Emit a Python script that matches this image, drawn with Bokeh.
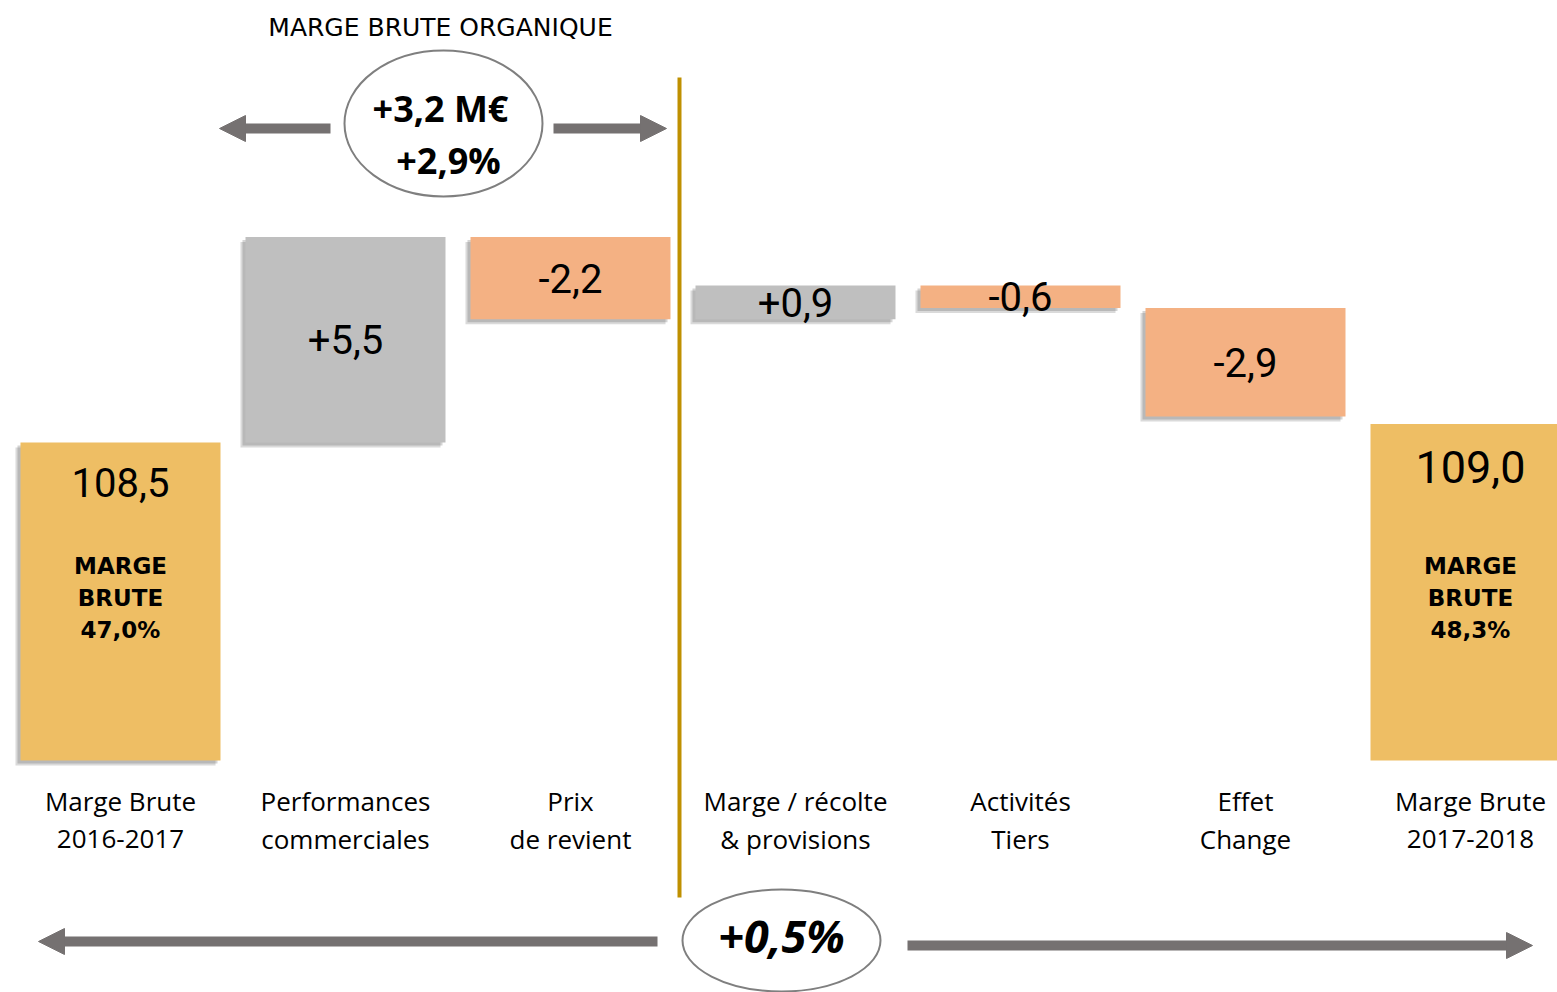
from bokeh.plotting import figure
from bokeh.models import Range1d, Arrow, NormalHead, ColumnDataSource
from bokeh.core.properties import value
from bokeh.embed import file_html
from bokeh.resources import INLINE

# ---------------- data ----------------
categories_line1 = ["Marge Brute", "Performances", "Prix", "Marge / récolte", "Activités", "Effet", "Marge Brute"]
categories_line2 = ["2016-2017", "commerciales", "de revient", "& provisions", "Tiers", "Change", "2017-2018"]
start_value = 108.5
deltas = [5.5, -2.2, 0.9, -0.6, -2.9]
end_value = 109.0
value_labels = ["108,5", "+5,5", "-2,2", "+0,9", "-0,6", "-2,9", "109,0"]
margin_rates = ["47,0%", "48,3%"]
organic_growth = ["+3,2 M€", "+2,9%"]
total_growth = "+0,5%"
title_text = "MARGE BRUTE ORGANIQUE"
axis_base = 100.0

# ---------------- layout helpers (page pixel -> data) ----------------
X_C0, X_STEP = 120.0, 225.0      # pixel centre of first category, spacing
Y_BASE, Y_SCALE = 760.0, 37.4    # pixel of axis_base, pixels per unit
W, H = 1557, 992
OX, OY = 0, 0                    # page offset of the plot area


def fx(px):
    return (px - X_C0) / X_STEP


def fy(py):
    return axis_base + (Y_BASE - py) / Y_SCALE


GOLD = "#EEBE64"
GREY = "#BFBFBF"
SALMON = "#F4B183"
ARROW = "#757171"

# ---------------- waterfall geometry ----------------
n = len(categories_line1)
bottoms, tops, colors = [], [], []
bottoms.append(axis_base); tops.append(start_value); colors.append(GOLD)
level = start_value
for d in deltas:
    new = level + d
    bottoms.append(min(level, new)); tops.append(max(level, new))
    colors.append(GREY if d > 0 else SALMON)
    level = new
bottoms.append(axis_base); tops.append(end_value); colors.append(GOLD)

xs = list(range(n))
half = 100.0 / X_STEP
src = ColumnDataSource(dict(left=[x - half for x in xs], right=[x + half for x in xs],
                            top=tops, bottom=bottoms, color=colors))

p = figure(width=W, height=H, output_backend="svg", toolbar_location=None,
           x_range=Range1d(fx(OX), fx(OX + W)), y_range=Range1d(fy(OY + H), fy(OY)),
           min_border=0, outline_line_color=None)
p.axis.visible = False
p.grid.visible = False
p.background_fill_color = "white"

# shadows (all but the last bar)
dx, dy = 5.0 / X_STEP, 5.0 / Y_SCALE
for k, a in ((1.0, 0.22), (0.6, 0.25)):
    sh = ColumnDataSource(dict(left=[x - half - dx * k for x in xs[:-1]],
                               right=[x + half - dx * k for x in xs[:-1]],
                               top=[t - dy * k for t in tops[:-1]],
                               bottom=[b - dy * k for b in bottoms[:-1]]))
    p.quad(left="left", right="right", top="top", bottom="bottom", source=sh,
           fill_color="#555555", fill_alpha=a, line_color=None)

p.quad(left="left", right="right", top="top", bottom="bottom", source=src,
       fill_color="color", line_color=None)

# value labels
lab_x, lab_y, lab_t, lab_s = [], [], [], []
for i in range(n):
    if i in (0, n - 1):
        lab_y.append(tops[i] - (40 if i == 0 else 43) / Y_SCALE)
        lab_s.append("40px" if i == 0 else "45px")
    else:
        lab_y.append((tops[i] + bottoms[i]) / 2)
        lab_s.append("40px")
    lab_x.append(xs[i]); lab_t.append(value_labels[i])
p.text(x=lab_x, y=lab_y, text=lab_t, text_font_size=lab_s, text_font=value("Roboto"),
       text_align="center", text_baseline="middle", text_color="black")

# "MARGE BRUTE xx%" inside total bars
for i, rate in ((0, margin_rates[0]), (n - 1, margin_rates[1])):
    for j, t in enumerate(["MARGE", "BRUTE", rate]):
        p.text(x=[xs[i]], y=[fy(565 + 32 * j)], text=[t], text_font=value("DejaVu Sans"),
               text_font_style="bold", text_font_size="23px", text_align="center",
               text_baseline="middle", text_color="black")

# category labels
p.text(x=xs, y=[fy(800)] * n, text=categories_line1, text_font=value("Open Sans"),
       text_font_size="26px", text_align="center", text_baseline="middle", text_color="black")
p.text(x=xs, y=[fy(838)] * n, text=categories_line2, text_font=value("Open Sans"),
       text_font_size="26px", text_align="center", text_baseline="middle", text_color="black")

# vertical separator
p.segment(x0=[fx(679)], y0=[fy(77)], x1=[fx(679)], y1=[fy(897)], line_color="#BF9000", line_width=4)

# title
p.text(x=[fx(440)], y=[fy(27)], text=[title_text], text_font=value("DejaVu Sans"),
       text_font_size="25px", text_align="center", text_baseline="middle", text_color="black")

# arrows
def arrow(x0, y0, x1, y1):
    p.add_layout(Arrow(end=NormalHead(size=26, fill_color=ARROW, line_color=ARROW),
                       x_start=fx(x0), y_start=fy(y0), x_end=fx(x1), y_end=fy(y1),
                       line_color=ARROW, line_width=10))

arrow(330, 128, 219, 128)
arrow(553, 128, 666, 128)
arrow(657, 941, 38, 941)
arrow(907, 945, 1532, 945)

# ellipses
p.ellipse(x=[fx(443)], y=[fy(123)], width=198, height=146, width_units="screen",
          height_units="screen", fill_color="white", line_color="#7F7F7F", line_width=2)
p.ellipse(x=[fx(781)], y=[fy(940)], width=198, height=102, width_units="screen",
          height_units="screen", fill_color="white", line_color="#7F7F7F", line_width=2)

p.text(x=[fx(440), fx(448)], y=[fy(108), fy(160)], text=organic_growth,
       text_font=value("Open Sans"), text_font_style="bold", text_font_size="36px",
       text_align="center", text_baseline="middle", text_color="black")
p.text(x=[fx(781)], y=[fy(935)], text=[total_growth], text_font=value("Open Sans"),
       text_font_style="bold italic", text_font_size="45px", text_align="center",
       text_baseline="middle", text_color="black")

open("out.html", "w").write(file_html(p, INLINE))
